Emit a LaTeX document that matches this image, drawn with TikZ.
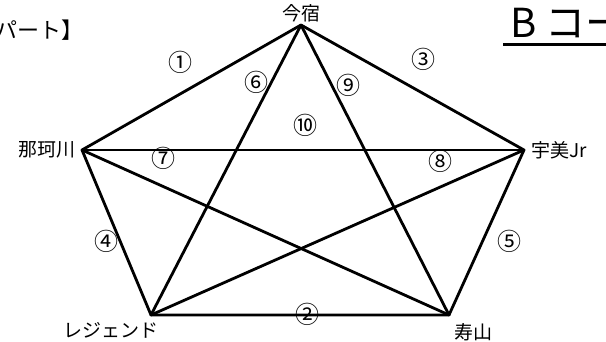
\documentclass[tikz,border=0pt]{standalone}
\usepackage{fontspec}
\setmainfont{Noto Sans CJK JP}
\usetikzlibrary{positioning}
\tikzset{
edge/.style={line width=2.8pt,line join=round,line cap=round},
place/.style={inner sep=0pt,font=\fontsize{19}{19}\selectfont},
num/.style={inner sep=0pt,font=\fontsize{24}{24}\selectfont}
}

\begin{document}
\begin{tikzpicture}[x=1pt,y=-1pt]
\useasboundingbox (0,0) rectangle (606,342);

\coordinate (imajuku) at (301,25);
\coordinate (nakagawa) at (82,150);
\coordinate (umi) at (524,150);
\coordinate (legend) at (151,315);
\coordinate (sueyama) at (449,315);

% outer pentagon
\draw[edge] (imajuku) -- (umi) -- (sueyama) -- (legend) -- (nakagawa) -- cycle;
% star
\draw[edge] (imajuku) -- (legend);
\draw[edge] (imajuku) -- (sueyama);
\draw[edge] (nakagawa) -- (umi);
\draw[edge] (nakagawa) -- (sueyama);
\draw[edge] (umi) -- (legend);

\node[place,above=3pt of imajuku] (l-imajuku) {今宿};
\node[place,left=6pt of nakagawa] (l-nakagawa) {那珂川};
\node[place,right=7pt of umi] (l-umi) {宇美Jr};
\node[place,below left=7pt and -8pt of legend] (l-legend) {レジェンド};
\node[place,below right=8pt and 5pt of sueyama] (l-sueyama) {寿山};

\node[num] (n1) at (180,62) {①};
\node[num] (n2) at (307,314) {②};
\node[num] (n3) at (423,59) {③};
\node[num] (n4) at (106,241) {④};
\node[num] (n5) at (509,241) {⑤};
\node[num] (n6) at (256,82) {⑥};
\node[num] (n7) at (163,158) {⑦};
\node[num] (n8) at (440,161) {⑧};
\node[num] (n9) at (348,85) {⑨};
\node[num] (n10) at (305,125) {⑩};

\node[inner sep=0pt,anchor=west,font=\fontsize{22}{22}\selectfont] (part) at (-5,30) {パート】};
\node[inner sep=0pt,anchor=south west,font=\fontsize{40}{40}\selectfont] (title) at (510,38) {B コー};
\draw[line width=3pt] (503,45) -- (606,45);
\end{tikzpicture}
\end{document}
